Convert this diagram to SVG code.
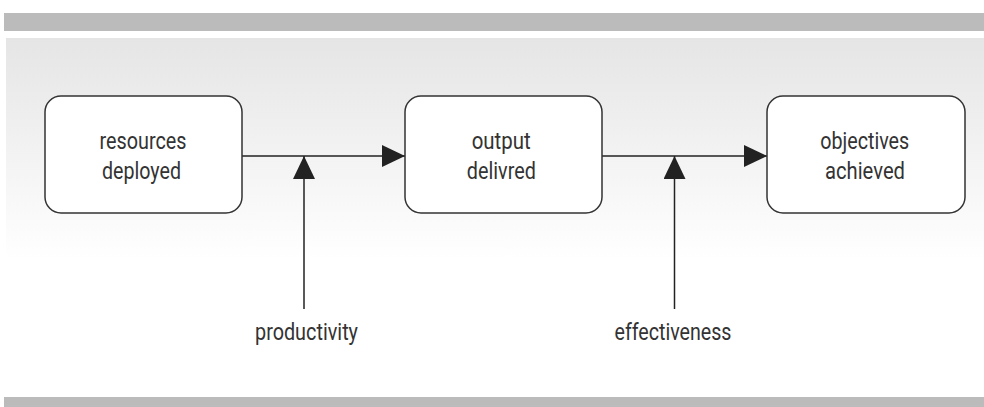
<svg xmlns="http://www.w3.org/2000/svg" width="984" height="407" viewBox="0 0 984 407">
<defs>
<linearGradient id="bg" x1="0" y1="38" x2="0" y2="260" gradientUnits="userSpaceOnUse">
<stop offset="0" stop-color="#e5e5e5"/>
<stop offset="1" stop-color="#ffffff"/>
</linearGradient>
<marker id="ah" markerWidth="23" markerHeight="22" refX="23" refY="11" orient="auto" markerUnits="userSpaceOnUse">
<path d="M0,0 L23,11 L0,22 Z" fill="#222"/>
</marker>
</defs>
<style>
.box{fill:#fff;stroke:#333;stroke-width:1.5}
.t{font-family:Roboto,"Liberation Sans",Arial,sans-serif;font-size:23px;fill:#333;text-anchor:middle}
.c{stroke:#222;stroke-width:1.5;fill:none}
</style>
<rect x="0" y="0" width="984" height="407" fill="#fff"/>
<rect x="4" y="13" width="980" height="18" fill="#bbbbbb"/>
<rect x="6" y="38" width="978" height="240" fill="url(#bg)"/>
<rect x="4" y="397" width="980" height="10" fill="#bbbbbb"/>
<g id="connectors">
<line class="c" x1="242" y1="156" x2="405" y2="156" marker-end="url(#ah)"/>
<line class="c" x1="602" y1="156" x2="767" y2="156" marker-end="url(#ah)"/>
<line class="c" x1="304" y1="309" x2="304" y2="156" marker-end="url(#ah)"/>
<line class="c" x1="674.5" y1="309" x2="674.5" y2="156" marker-end="url(#ah)"/>
</g>
<g id="resources">
<rect class="box" x="45" y="96" width="197" height="117" rx="16"/>
<text class="t" x="143" y="148.5" textLength="87" lengthAdjust="spacingAndGlyphs">resources</text>
<text class="t" x="141.5" y="178.5" textLength="79" lengthAdjust="spacingAndGlyphs">deployed</text>
</g>
<g id="output">
<rect class="box" x="405" y="96" width="197" height="117" rx="16"/>
<text class="t" x="501.2" y="148.5" textLength="59" lengthAdjust="spacingAndGlyphs">output</text>
<text class="t" x="501.3" y="178.5" textLength="69" lengthAdjust="spacingAndGlyphs">delivred</text>
</g>
<g id="objectives">
<rect class="box" x="767" y="96" width="198" height="117" rx="16"/>
<text class="t" x="864.7" y="148.5" textLength="89" lengthAdjust="spacingAndGlyphs">objectives</text>
<text class="t" x="865" y="178.5" textLength="80" lengthAdjust="spacingAndGlyphs">achieved</text>
</g>
<g id="productivity">
<text class="t" x="306.5" y="339.5" textLength="103" lengthAdjust="spacingAndGlyphs">productivity</text>
</g>
<g id="effectiveness">
<text class="t" x="673" y="339.5" textLength="117" lengthAdjust="spacingAndGlyphs">effectiveness</text>
</g>
</svg>
